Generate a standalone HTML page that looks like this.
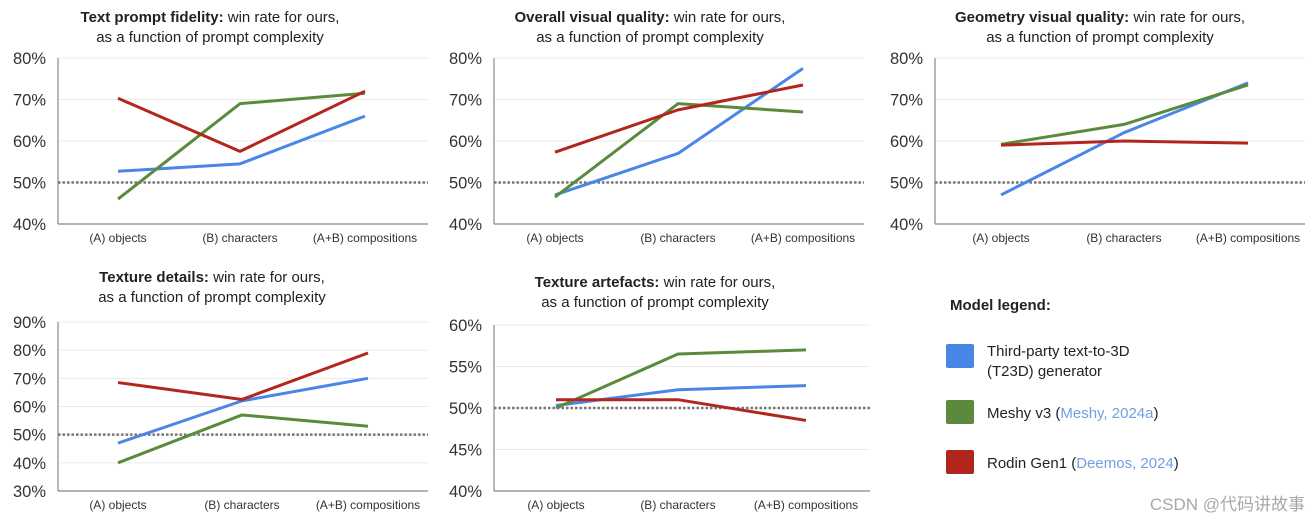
<!DOCTYPE html>
<html><head><meta charset="utf-8"><style>
body{margin:0;background:#fff;width:1310px;height:526px;overflow:hidden;font-family:"Liberation Sans","Noto Sans CJK SC",sans-serif}
svg{position:absolute;left:0;top:0}
</style></head><body>
<svg id="chart" width="1310" height="526"></svg>
<script>
const categories = ["(A) objects", "(B) characters", "(A+B) compositions"];
const seriesNames = ["t23d", "meshy", "rodin"];
const p1Blue = [52.7, 54.5, 66], p1Green = [46, 69, 71.5], p1Red = [70.3, 57.5, 72];
const p2Blue = [47, 57, 77.5], p2Green = [46.5, 69, 67], p2Red = [57.3, 67.5, 73.5];
const p3Blue = [47, 62, 74], p3Green = [59.2, 64, 73.5], p3Red = [59, 60, 59.5];
const p4Blue = [47, 62, 70], p4Green = [40, 57, 53], p4Red = [68.5, 62.5, 79];
const p5Blue = [50.3, 52.2, 52.7], p5Green = [50, 56.5, 57], p5Red = [51, 51, 48.5];
const ticks1 = [40, 50, 60, 70, 80];
const ticks4 = [30, 40, 50, 60, 70, 80, 90];
const ticks5 = [40, 45, 50, 55, 60];
const titlesBold = ["Text prompt fidelity:", "Overall visual quality:", "Geometry visual quality:", "Texture details:", "Texture artefacts:"];

const colors = ["#4a86e8", "#5b8a3c", "#b3261e"];
const svg = document.getElementById('chart');
const NS = "http://www.w3.org/2000/svg";
function mk(tag, attrs, parent){const e=document.createElementNS(NS,tag);for(const k in attrs)e.setAttribute(k,attrs[k]);(parent||svg).appendChild(e);return e;}

const panels = [
 {name:"text-prompt-fidelity", ax:58, right:428, top:58, bot:224, ticks:ticks1, xs:[118,240,365], data:[p1Blue,p1Green,p1Red], tx:210, ty:22},
 {name:"overall-visual-quality", ax:494, right:864, top:58, bot:224, ticks:ticks1, xs:[555,678,803], data:[p2Blue,p2Green,p2Red], tx:650, ty:22},
 {name:"geometry-visual-quality", ax:935, right:1305, top:58, bot:224, ticks:ticks1, xs:[1001,1124,1248], data:[p3Blue,p3Green,p3Red], tx:1100, ty:22},
 {name:"texture-details", ax:58, right:428, top:322, bot:491, ticks:ticks4, xs:[118,242,368], data:[p4Blue,p4Green,p4Red], tx:212, ty:282},
 {name:"texture-artefacts", ax:494, right:870, top:325, bot:491, ticks:ticks5, xs:[556,678,806], data:[p5Blue,p5Green,p5Red], tx:655, ty:287},
];

panels.forEach((p,pi)=>{
  const g = mk('g',{});
  
  
  const lo=p.ticks[0], hi=p.ticks[p.ticks.length-1];
  const y=v=>p.bot-(v-lo)/(hi-lo)*(p.bot-p.top);
  p.ticks.forEach(t=>{
    if(t!==lo) mk('line',{x1:p.ax,x2:p.right,y1:y(t),y2:y(t),stroke:"#ebebeb","stroke-width":1},g);
    const tl=mk('text',{x:p.ax-12,y:y(t)+6,"text-anchor":"end","font-size":16.5,fill:"#333"},g);
    tl.textContent=t+"%";
    
    
  });
  mk('line',{x1:p.ax,x2:p.ax,y1:p.top,y2:p.bot,stroke:"#888","stroke-width":1.2},g);
  mk('line',{x1:p.ax,x2:p.right,y1:p.bot,y2:p.bot,stroke:"#888","stroke-width":1.2},g);
  const ref=mk('line',{x1:p.ax,x2:p.right,y1:y(50),y2:y(50),stroke:"#777","stroke-width":2.5,"stroke-dasharray":"2.5,2"},g);
  
  
  categories.forEach((c,i)=>{
    const t=mk('text',{x:p.xs[i],y:p.bot+18,"text-anchor":"middle","font-size":12,fill:"#333"},g);
    t.textContent=c;
    
    
  });
  p.data.forEach((arr,si)=>{
    const pts=arr.map((v,i)=>p.xs[i]+","+y(v)).join(" ");
    const l=mk('polyline',{points:pts,fill:"none",stroke:colors[si],"stroke-width":3,"stroke-linejoin":"round"},g);
    
    
  });
  const t1=mk('text',{x:p.tx,y:p.ty,"text-anchor":"middle","font-size":15,fill:"#222"},g);
  const b=mk('tspan',{"font-weight":"bold"},t1); b.textContent=titlesBold[pi];
  const n=mk('tspan',{},t1); n.textContent=" win rate for ours,";
  
  
  const t2=mk('text',{x:p.tx,y:p.ty+20,"text-anchor":"middle","font-size":15,fill:"#222"},g);
  t2.textContent="as a function of prompt complexity";
  
  
});

// legend
const lg=mk('g',{});


const lt=mk('text',{x:950,y:310,"font-size":15,"font-weight":"bold",fill:"#222"},lg);
lt.textContent="Model legend:";
const entries=[
 {y:344, lines:[["Third-party text-to-3D",""],["(T23D) generator",""]]},
 {y:400, lines:[["Meshy v3 (","Meshy, 2024a",")"]]},
 {y:450, lines:[["Rodin Gen1 (","Deemos, 2024",")"]]},
];
entries.forEach((e,i)=>{
  const r=mk('rect',{x:946,y:e.y,width:28,height:24,rx:2,fill:colors[i]},lg);
  
  
  e.lines.forEach((ln,j)=>{
    const ty = e.lines.length>1 ? e.y+12+j*20 : e.y+18;
    const t=mk('text',{x:987,y:ty,"font-size":15,fill:"#222"},lg);
    
    
    const a=mk('tspan',{},t); a.textContent=ln[0];
    if(ln[1]){const c=mk('tspan',{fill:"#6fa0e0"},t); c.textContent=ln[1];}
    if(ln[2]){const d=mk('tspan',{},t); d.textContent=ln[2];}
  });
});
const wm=mk('text',{x:1305,y:510,"text-anchor":"end","font-size":17,fill:"#a8a8a8"});
wm.textContent="CSDN @代码讲故事";


</script>
</body></html>
